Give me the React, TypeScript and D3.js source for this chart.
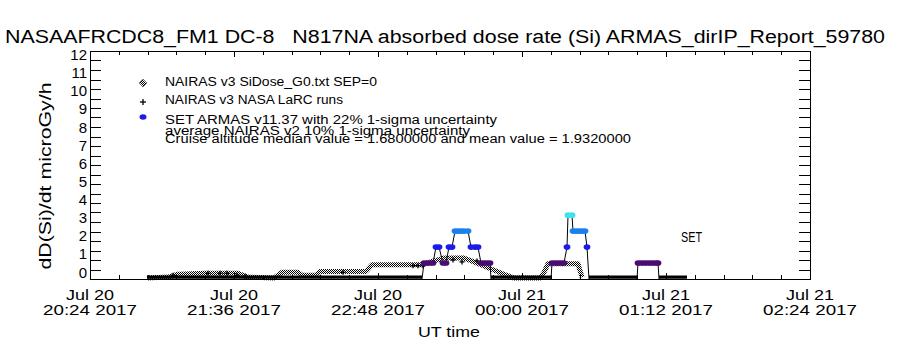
import { useEffect, useRef } from "react"
import * as d3 from "d3"

const chartTitle = "NASAAFRCDC8_FM1 DC-8   N817NA absorbed dose rate (Si) ARMAS_dirIP_Report_59780"
const yTitle = "dD(Si)/dt microGy/h"
const xTitle = "UT time"

// x values are minutes after Jul 20 2017 20:24 UT
const xTickMinutes = [0, 72, 144, 216, 288, 360]
const xTickDays = ["Jul 20", "Jul 20", "Jul 20", "Jul 21", "Jul 21", "Jul 21"]
const xTickTimes = ["20:24 2017", "21:36 2017", "22:48 2017", "00:00 2017", "01:12 2017", "02:24 2017"]
const yTickValues = [0, 1, 2, 3, 4, 5, 6, 7, 8, 9, 10, 11, 12]

const legendLabels = [
  "NAIRAS v3 SiDose_G0.txt SEP=0",
  "NAIRAS v3 NASA LaRC runs",
  "SET ARMAS v11.37 with 22% 1-sigma uncertainty",
  "average NAIRAS v2 10% 1-sigma uncertainty",
  "Cruise altitude median value = 1.6800000 and mean value = 1.9320000",
]

// NAIRAS v3 SiDose_G0 [minute, microGy/h]
const g0Data: [number, number][] = [
  [28.5, 0.05], [39, 0.1], [44, 0.25], [58, 0.3], [74, 0.3], [79, 0.1], [92, 0.05],
  [96, 0.35], [104, 0.35], [106, 0.2], [113, 0.2], [115, 0.4], [138, 0.4], [141, 0.75],
  [166, 0.75], [172, 0.95], [177, 1.1], [187, 1.1], [192, 0.9], [200, 0.55], [207, 0.25],
  [212, 0.05], [225, 0.05], [227, 0.35], [229, 0.8], [244, 0.8], [246, 0.1],
]

// NAIRAS v3 LaRC runs [minute, microGy/h]
const larcData: [number, number][] = [
  [41.5, 0.2], [59, 0.3], [65, 0.3], [68.5, 0.3], [73.5, 0.2], [77.5, 0.15], [126.5, 0.35],
  [161.5, 0.7], [164, 0.7], [166.5, 0.7], [181.5, 1.0], [186, 0.9], [193.5, 0.95],
]

// SET ARMAS [minute, microGy/h]
const armasData: [number, number][] = [
  [28.5, 0], [166, 0], [167, 0.84], [168.5, 0.84], [170, 0.84], [171.5, 0.84], [173, 1.68],
  [174.5, 1.68], [176.5, 0.84], [178, 0.84], [179.5, 1.68], [181, 1.68], [182.5, 2.52],
  [184, 2.52], [185.5, 2.52], [187, 2.52], [189, 2.52], [190.5, 1.68], [192.5, 1.68],
  [194, 1.68], [195.5, 0.84], [197, 0.84], [198.5, 0.84], [200, 0.84], [200.5, 0],
  [230.5, 0], [231, 0.84], [232.5, 0.84], [234, 0.84], [235.5, 0.84], [237, 0.84],
  [238.5, 1.68], [239, 3.36], [241, 3.36], [241.5, 2.52], [243, 2.52], [244.5, 2.52],
  [246, 2.52], [247.5, 2.52], [248.5, 1.68], [249.5, 0],
  [273.5, 0], [274, 0.84], [275.5, 0.84], [277, 0.84], [278.5, 0.84], [280, 0.84],
  [281.5, 0.84], [283, 0.84], [284, 0.84], [284.5, 0], [298.5, 0],
]

const armasLevels = [0, 0.84, 1.68, 2.52, 3.36]
const armasColors = ["#000000", "#4b0c72", "#1c1ce6", "#1a80ee", "#3ee2ec"]

export default function App() {
  const svgRef = useRef<SVGSVGElement>(null)

  useEffect(() => {
    if (!svgRef.current) return
    const root = d3.select(svgRef.current)
    root.selectAll("*").remove()

    const font = "'Liberation Sans', Arial, sans-serif"
    const left = 90, right = 810, top = 51, bottom = 279

    const x = d3.scaleLinear().domain([0, 360]).range([left, right])
    const y = d3.scaleLinear().domain([0, 12]).range([bottom, top])
    const yLabelPos = d3.scaleLinear().domain([0, 12]).range([272.5, 55])

    const defs = root.append("defs")
    const pat = defs.append("pattern").attr("id", "dither").attr("width", 2).attr("height", 2)
      .attr("patternUnits", "userSpaceOnUse")
    pat.append("rect").attr("x", 0).attr("y", 0).attr("width", 1).attr("height", 1).attr("fill", "#000")
    pat.append("rect").attr("x", 1).attr("y", 1).attr("width", 1).attr("height", 1).attr("fill", "#000")

    root.append("rect").attr("width", 900).attr("height", 350).attr("fill", "#fff")

    // title
    root.append("text").attr("x", 5).attr("y", 43).attr("textLength", 880)
      .attr("lengthAdjust", "spacingAndGlyphs").style("font-family", font).style("font-size", "18px")
      .style("white-space", "pre")
      .text(chartTitle)

    // frame
    const g = root.append("g").attr("shape-rendering", "crispEdges")
    g.append("rect").attr("x", left + 0.5).attr("y", top + 0.5).attr("width", right - left)
      .attr("height", bottom - top).attr("fill", "none").attr("stroke", "#000")

    // x ticks (major every 72 min, minor every 14.4)
    const minorX = d3.range(0, 26).map((i) => i * 14.4)
    minorX.forEach((m, i) => {
      const len = i % 5 === 0 ? 6 : 4
      const px = Math.round(x(m)) + 0.5
      g.append("line").attr("x1", px).attr("x2", px).attr("y1", bottom).attr("y2", bottom - len).attr("stroke", "#000")
      g.append("line").attr("x1", px).attr("x2", px).attr("y1", top).attr("y2", top + len).attr("stroke", "#000")
    })

    // y ticks every 0.5
    d3.range(0, 25).forEach((i) => {
      const py = Math.round(y(i * 0.5)) + 0.5
      g.append("line").attr("x1", left).attr("x2", left + 11).attr("y1", py).attr("y2", py).attr("stroke", "#000")
      g.append("line").attr("x1", right).attr("x2", right - 11).attr("y1", py).attr("y2", py).attr("stroke", "#000")
    })

    // y labels
    root.selectAll(".ylab").data(yTickValues).enter().append("text").attr("class", "ylab")
      .attr("x", 87).attr("y", (d) => yLabelPos(d) + 5).attr("text-anchor", "end")
      .style("font-family", font).style("font-size", "15px").text((d) => d.toString())

    // x labels
    xTickMinutes.forEach((m, i) => {
      root.append("text").attr("x", x(m)).attr("y", 300).attr("text-anchor", "middle")
        .attr("textLength", 48).attr("lengthAdjust", "spacingAndGlyphs")
        .style("font-family", font).style("font-size", "14px").text(xTickDays[i])
      root.append("text").attr("x", x(m)).attr("y", 315).attr("text-anchor", "middle")
        .attr("textLength", 94).attr("lengthAdjust", "spacingAndGlyphs")
        .style("font-family", font).style("font-size", "14px").text(xTickTimes[i])
    })

    root.append("text").attr("x", 449).attr("y", 337).attr("text-anchor", "middle")
      .attr("textLength", 62).attr("lengthAdjust", "spacingAndGlyphs")
      .style("font-family", font).style("font-size", "15px").text(xTitle)

    root.append("text").attr("transform", "translate(51,176) rotate(-90)").attr("text-anchor", "middle")
      .attr("textLength", 187).attr("lengthAdjust", "spacingAndGlyphs")
      .style("font-family", font).style("font-size", "16px").text(yTitle)

    // NAIRAS G0 band
    const line = d3.line<[number, number]>().x((d) => x(d[0])).y((d) => y(d[1]))
    root.append("path").datum(g0Data).attr("d", line).attr("fill", "none")
      .attr("stroke", "url(#dither)").attr("stroke-width", 5).attr("stroke-linejoin", "round")

    // ARMAS zero stretches (thick baseline)
    for (let i = 1; i < armasData.length; i++) {
      const a = armasData[i - 1], b = armasData[i]
      if (a[1] === 0 && b[1] === 0) {
        root.append("line").attr("x1", x(a[0])).attr("x2", x(b[0]))
          .attr("y1", y(0) - 2).attr("y2", y(0) - 2).attr("stroke", "#000").attr("stroke-width", 3)
      }
    }

    // LaRC runs
    const plus = root.append("g").attr("stroke", "#000").attr("stroke-width", 1.3)
    larcData.forEach((d) => {
      const cx = x(d[0]), cy = y(d[1])
      plus.append("line").attr("x1", cx - 2.5).attr("x2", cx + 2.5).attr("y1", cy).attr("y2", cy)
      plus.append("line").attr("x1", cx).attr("x2", cx).attr("y1", cy - 2.5).attr("y2", cy + 2.5)
    })

    // ARMAS line + dots
    root.append("path").datum(armasData).attr("d", line).attr("fill", "none")
      .attr("stroke", "#000").attr("stroke-width", 1)
    const colorOf = d3.scaleOrdinal<number, string>().domain(armasLevels).range(armasColors)
    root.selectAll(".armas").data(armasData.filter((d) => d[1] > 0)).enter().append("ellipse")
      .attr("class", "armas").attr("cx", (d) => x(d[0])).attr("cy", (d) => y(d[1]))
      .attr("rx", 3.4).attr("ry", 2.8).attr("fill", (d) => colorOf(d[1]))

    // SET label
    root.append("text").attr("x", 681).attr("y", 242).attr("textLength", 21)
      .attr("lengthAdjust", "spacingAndGlyphs").style("font-family", font).style("font-size", "14px").text("SET")

    // legend
    const legendY = [86, 104, 124, 135, 143]
    const legendW = [212, 178, 332, 305, 466]
    legendLabels.forEach((t, i) => {
      root.append("text").attr("x", 165).attr("y", legendY[i]).attr("textLength", legendW[i])
        .attr("lengthAdjust", "spacingAndGlyphs").style("font-family", font).style("font-size", "12.5px").text(t)
    })
    root.append("path").attr("d", "M143,79 L147,83 L143,87 L139,83 Z").attr("fill", "url(#dither)")
      .attr("stroke", "#666").attr("stroke-width", 0.8)
    root.append("line").attr("x1", 140).attr("x2", 146).attr("y1", 102).attr("y2", 102).attr("stroke", "#000").attr("stroke-width", 1.3)
    root.append("line").attr("x1", 143).attr("x2", 143).attr("y1", 99).attr("y2", 105).attr("stroke", "#000").attr("stroke-width", 1.3)
    root.append("ellipse").attr("cx", 143).attr("cy", 117).attr("rx", 3.5).attr("ry", 2.7).attr("fill", armasColors[2])
  }, [])

  return (
    <svg ref={svgRef} width={900} height={350} style={{ position: "absolute", left: 0, top: 0 }}></svg>
  )
}
